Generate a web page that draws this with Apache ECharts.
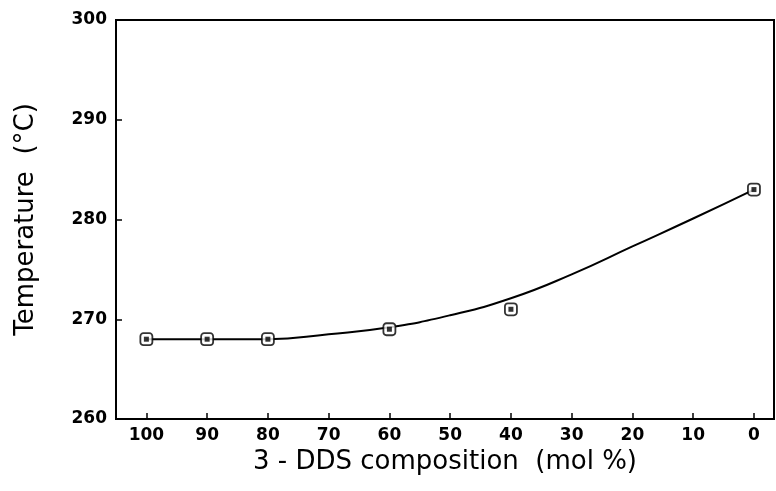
<!DOCTYPE html>
<html lang="en">
<head>
    <meta charset="UTF-8">
    <title>3-DDS composition</title>
    <script src="https://cdn.jsdelivr.net/npm/echarts@6/dist/echarts.min.js"></script>
    <style type="text/css">
        body { margin: 0; background: #fff; }
        #main { width: 776px; height: 491px; }
    </style>
</head>
<body>
<div id="main"></div>
<script>
    // measured points (mol % 3-DDS, temperature)
    var composition = [100, 90, 80, 60, 40, 0];
    var temperature = [268, 268, 268, 269, 271, 283];

    // hand-drawn fitted curve
    var curveX = [100, 90, 80, 70, 60, 50, 40, 30, 20, 10, 0];
    var curveY = [268, 268, 268, 268.5, 269.2, 270.4, 272.1, 274.5, 277.3, 280.1, 283];

    var xTicks = [0, 10, 20, 30, 40, 50, 60, 70, 80, 90, 100];

    var pairs = function (xs, ys) {
        var res = [];
        for (var i = 0; i < xs.length; i++) {
            res.push([xs[i], ys[i]]);
        }
        return res;
    };

    var labelFont = {
        color: '#000',
        fontFamily: 'DejaVu Sans',
        fontWeight: 'bold',
        fontSize: 17
    };

    var titleFont = {
        color: '#000',
        fontFamily: 'DejaVu Sans',
        fontSize: 26
    };

    var option = {
        backgroundColor: '#fff',
        animation: false,
        grid: {
            left: 116,
            right: 2,
            top: 20,
            bottom: 72,
            show: true,
            borderColor: '#000',
            borderWidth: 2
        },
        xAxis: {
            type: 'value',
            inverse: true,
            min: -3.3,
            max: 105,
            name: '3 - DDS composition  (mol %)',
            nameLocation: 'middle',
            nameGap: 30,
            nameTextStyle: titleFont,
            axisLine: { onZero: false, lineStyle: { color: '#000', width: 2 } },
            axisTick: {
                inside: true,
                length: 6,
                customValues: xTicks,
                lineStyle: { color: '#000', width: 1.5 }
            },
            axisLabel: Object.assign({ customValues: xTicks, margin: 8 }, labelFont),
            splitLine: { show: false }
        },
        yAxis: {
            type: 'value',
            min: 260,
            max: 300,
            interval: 10,
            name: 'Temperature  (°C)',
            nameLocation: 'middle',
            nameGap: 77,
            nameTextStyle: titleFont,
            axisLine: { onZero: false, lineStyle: { color: '#000', width: 2 } },
            axisTick: {
                inside: true,
                length: 6,
                lineStyle: { color: '#000', width: 1.5 }
            },
            axisLabel: Object.assign({ margin: 9 }, labelFont),
            splitLine: { show: false }
        },
        series: [{
            name: 'curve',
            type: 'line',
            smooth: 0.5,
            showSymbol: false,
            data: pairs(curveX, curveY),
            lineStyle: { color: '#000', width: 2 },
            z: 2
        }, {
            name: 'measured',
            type: 'scatter',
            symbol: 'roundRect',
            symbolSize: 12,
            data: pairs(composition, temperature),
            itemStyle: { color: '#fff', borderColor: '#000', borderWidth: 1.8 },
            z: 3
        }, {
            name: 'measured-dot',
            type: 'scatter',
            symbol: 'rect',
            symbolSize: 5,
            data: pairs(composition, temperature),
            itemStyle: { color: '#000' },
            z: 4
        }]
    };

    var myChart = echarts.init(document.getElementById('main'));
    myChart.setOption(option);
</script>
</body>
</html>
